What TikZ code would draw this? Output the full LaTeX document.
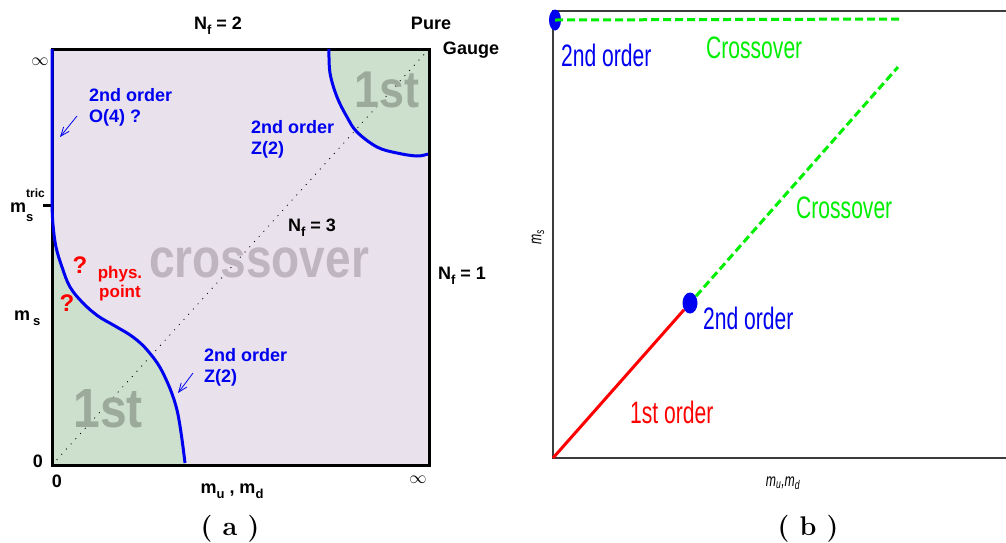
\documentclass[tikz,border=0pt]{standalone}
\usepackage{fontspec}
\usepackage{graphicx}
\usetikzlibrary{arrows.meta,positioning,shapes.geometric}
\newfontfamily\helfont{Liberation Sans}
\newfontfamily\narrowfont[FakeStretch=0.68]{Liberation Sans}
\definecolor{regioncross}{RGB}{233,226,236}
\definecolor{regionfirst}{RGB}{205,224,205}
\definecolor{crosstext}{RGB}{190,181,190}
\definecolor{firsttext}{RGB}{156,170,156}
\definecolor{lineblue}{RGB}{0,0,240}
\definecolor{linegreen}{RGB}{0,238,0}
\definecolor{axisgray}{RGB}{60,60,60}
\newcommand{\lowidx}[1]{\raisebox{-0.3em}{\fontsize{13}{13}\selectfont #1}}

\begin{document}
\begin{tikzpicture}[x=1pt, y=-1pt,
    lbl/.style={inner sep=0pt, font=\helfont\bfseries\fontsize{18}{21}\selectfont},
    bluelbl/.style={lbl, text=lineblue, align=left, anchor=west},
    redlbl/.style={lbl, text=red},
    biglbl/.style={inner sep=0pt, anchor=base, font=\helfont\bfseries},
    nlbl/.style={inner sep=0pt, anchor=west, font=\narrowfont\fontsize{31}{33}\selectfont},
    axlbl/.style={inner sep=0pt, font=\narrowfont\itshape\fontsize{18}{18}\selectfont},
    figcap/.style={inner sep=0pt, font=\bfseries\fontsize{27}{27}\selectfont},
    phase/.style={lineblue, line width=3pt},
    pointer/.style={lineblue, line width=0.8pt, -{Straight Barb[length=9pt,width=7pt]}},
    dashgreen/.style={linegreen, line width=3pt, dash pattern=on 8pt off 4pt},
    bluedot/.style={ellipse, fill=lineblue, inner sep=0pt}
  ]
  \useasboundingbox (0,0) rectangle (1006,542);

  % ---- panel (a): Columbia plot ----
  \fill[regioncross] (52,49) rectangle (429,465);
  \fill[regionfirst] (52,465) -- plot[smooth, tension=0.6] coordinates {(52,205) (53,225)
    (56,247) (62,267) (70,287) (83,303) (98,316) (115,326) (133,337) (148,351)
    (163,373) (177,410) (185,465)} -- cycle;
  \fill[regionfirst] (429,49) -- plot[smooth, tension=0.6] coordinates {(329,49) (330,73)
    (337,97) (347,117) (357,132) (377,147) (397,153) (417,156) (429,154)} -- cycle;
  \draw[line width=0.8pt, dash pattern=on 1pt off 6pt] (52,465) -- (429,49);
  \draw[line width=3pt] (52,49) rectangle (429,465);
  \draw[line width=3pt] (43,205) -- (52,205);

  \draw[phase] (52,49) -- plot[smooth, tension=0.6] coordinates {(52,205) (53,225)
    (56,247) (62,267) (70,287) (83,303) (98,316) (115,326) (133,337) (148,351)
    (163,373) (177,410) (185,463)};
  \draw[phase] plot[smooth, tension=0.6] coordinates {(329,49) (330,73)
    (337,97) (347,117) (357,132) (377,147) (397,153) (417,156) (428,154)};

  \node[biglbl, text=crosstext, font=\helfont\bfseries\fontsize{46}{46}\selectfont] (crossover)
    at (259,277) {\scalebox{1}[1.2]{crossover}};
  \node[biglbl, text=firsttext, font=\helfont\bfseries\fontsize{48}{48}\selectfont] (firstlow)
    at (108,427) {\scalebox{1}[1.15]{1st}};
  \node[biglbl, text=firsttext, font=\helfont\bfseries\fontsize{45}{45}\selectfont] (firsthigh)
    at (387,107) {\scalebox{1}[1.15]{1st}};

  \node[lbl, anchor=base] (nftwo) at (218,29) {N\lowidx{f} = 2};
  \node[lbl, anchor=base] (nfthree) at (312,231) {N\lowidx{f} = 3};
  \node[lbl, anchor=base] (nfone) at (462,279) {N\lowidx{f} = 1};
  \node[lbl, anchor=base] (pure) at (431,29) {Pure};
  \node[lbl, anchor=base] (gauge) at (471,54) {Gauge};

  \node[inner sep=0pt, font=\fontsize{16}{16}\selectfont] (infleft) at (40,62) {$\infty$};
  \node[inner sep=0pt, font=\fontsize{16}{16}\selectfont] (infbottom) at (418,480) {$\infty$};
  \node[lbl, anchor=base west] (mstric) at (10,212)
    {m\rlap{\raisebox{0.83em}{\fontsize{12}{12}\selectfont tric}}\raisebox{-0.55em}{\fontsize{13}{13}\selectfont s}};
  \node[lbl, anchor=base west] (msaxis) at (14,320) {m\,\lowidx{s}};
  \node[lbl, anchor=base] (zeroleft) at (38,467) {0};
  \node[lbl, anchor=base] (zerobottom) at (57,487) {0};
  \node[lbl, anchor=base] (mumd) at (232,493) {m\lowidx{u} , m\lowidx{d}};

  \node[bluelbl] (otwo) at (89,107) {2nd order\\O(4) ?};
  \node[bluelbl] (ztwohigh) at (251,139) {2nd order\\Z(2)};
  \node[bluelbl] (ztwolow) at (204,367) {2nd order\\Z(2)};
  \coordinate (otwotail) at (77,116);
  \coordinate (otwohead) at (60,137);
  \coordinate (ztwotail) at (193,373);
  \coordinate (ztwohead) at (178,393);
  \draw[pointer] (otwotail) -- (otwohead);
  \draw[pointer] (ztwotail) -- (ztwohead);

  \node[redlbl, font=\helfont\bfseries\fontsize{24}{24}\selectfont] (qone) at (80,265) {?};
  \node[redlbl, font=\helfont\bfseries\fontsize{24}{24}\selectfont] (qtwo) at (67,303) {?};
  \node[redlbl, align=center, font=\helfont\bfseries\fontsize{17}{19}\selectfont] (phys)
    at (120,284) {phys.\\point};

  \node[figcap] (capa) at (230,529) {(\ a\ )};

  % ---- panel (b): Nf=2+1 sketch ----
  \draw[axisgray, line width=1.5pt] (1006,11) -- (553,11) -- (553,458) -- (1006,458);
  \node[bluedot, minimum width=15pt, minimum height=21pt] (cep) at (690,303) {};
  \node[bluedot, minimum width=12pt, minimum height=21pt] (tric) at (555,20) {};
  \coordinate (origin) at (553,458);
  \coordinate (diagend) at (898,67);
  \coordinate (topend) at (900,19);
  \draw[red, line width=3pt] (origin) -- (cep);
  \draw[dashgreen] (cep) -- (diagend);
  \draw[dashgreen] (tric.center) -- (topend);

  \node[nlbl, text=lineblue] (tricl) at (561,55) {2nd order};
  \node[nlbl, text=linegreen] (crosstop) at (706,48) {Crossover};
  \node[nlbl, text=linegreen] (crossdiag) at (796,208) {Crossover};
  \node[nlbl, text=lineblue] (cepl) at (703,318) {2nd order};
  \node[nlbl, text=red] (firstl) at (630,412) {1st order};
  \node[axlbl, rotate=90] (msb) at (538,237) {m\textsubscript{s}};
  \node[axlbl] (mumdb) at (783,483) {m\textsubscript{u},m\textsubscript{d}};

  \node[figcap] (capb) at (808,529) {(\ b\ )};
\end{tikzpicture}
\end{document}
